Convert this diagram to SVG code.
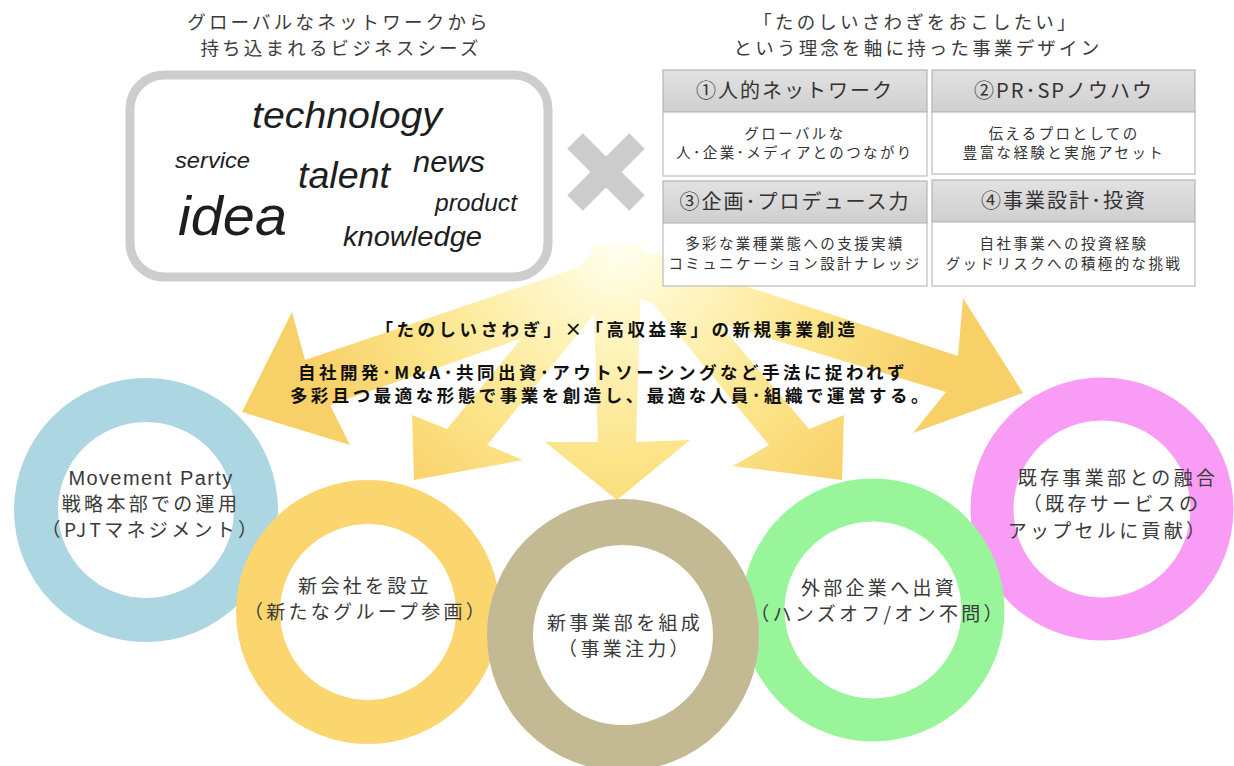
<svg xmlns="http://www.w3.org/2000/svg" width="1234" height="766" viewBox="0 0 1234 766">
<defs>
<radialGradient id="fan" gradientUnits="userSpaceOnUse" cx="618" cy="245" r="330">
<stop offset="0" stop-color="#fffff2"/>
<stop offset="0.2" stop-color="#fff8cc"/>
<stop offset="0.65" stop-color="#fce489"/>
<stop offset="1" stop-color="#f8d068"/>
</radialGradient>
<linearGradient id="hdr" x1="0" y1="0" x2="0" y2="1">
<stop offset="0" stop-color="#e2e2e2"/>
<stop offset="1" stop-color="#cfcfcf"/>
</linearGradient>
</defs>
<style>
.jp{font-family:"Noto Sans CJK JP","Noto Sans CJK SC",sans-serif;}
.title{font-size:18.5px;fill:#3c3c3c;letter-spacing:3.2px;text-anchor:middle;}
.word{font-family:"Liberation Sans",Arial,sans-serif;font-style:italic;fill:#1e1e1e;}
.hdr{fill:url(#hdr);stroke:#b4b4b4;stroke-width:1.2;}
.body{fill:#ffffff;stroke:#bdbdbd;stroke-width:1.2;}
.htext{font-size:20px;fill:#333;letter-spacing:2px;text-anchor:middle;}
.btext{font-size:14.5px;fill:#333;letter-spacing:2.4px;text-anchor:middle;}
.bold{font-size:17.5px;font-weight:bold;fill:#111;letter-spacing:3.5px;text-anchor:middle;}
.ring{fill:none;}
.rtext{font-size:19px;fill:#3a3a3a;letter-spacing:3.3px;text-anchor:middle;}
.arrow{fill:url(#fan);}
</style>
<rect width="1234" height="766" fill="#ffffff"/>

<g id="connectors">
<path class="arrow" d="M630,250 L305,360 L292,312 L242,412 L350,445 L330,405 L632,300 Z"/>
<path class="arrow" d="M598,245 L447,429 L412,415 L414,480 L523,460 L487,445 L632,268 Z"/>
<path class="arrow" d="M592,245 L598,442 L545,442 L617,500 L690,440 L636,442 L642,245 Z"/>
<path class="arrow" d="M658,252 L809,429 L844,415 L842,480 L733,466 L769,445 L624,268 Z"/>
<path class="arrow" d="M605,240 L958,356 L963,298 L1023,393 L913,433 L946,392 L610,290 Z"/>
</g>

<g id="title-left">
<text class="jp title" x="339" y="29">グローバルなネットワークから<tspan x="341" y="55">持ち込まれるビジネスシーズ</tspan></text>
</g>

<g id="seeds">
<rect x="130" y="75" width="418" height="202" rx="34" fill="#ffffff" stroke="#cdcdcd" stroke-width="9"/>
<text class="word" x="252" y="128" font-size="36" textLength="190" lengthAdjust="spacingAndGlyphs">technology</text>
<text class="word" x="175" y="168" font-size="22" textLength="75" lengthAdjust="spacingAndGlyphs">service</text>
<text class="word" x="298" y="188" font-size="37" textLength="92" lengthAdjust="spacingAndGlyphs">talent</text>
<text class="word" x="413" y="172" font-size="30" textLength="72" lengthAdjust="spacingAndGlyphs">news</text>
<text class="word" x="178" y="235" font-size="56" textLength="109" lengthAdjust="spacingAndGlyphs">idea</text>
<text class="word" x="435" y="211" font-size="24" textLength="82" lengthAdjust="spacingAndGlyphs">product</text>
<text class="word" x="343" y="246" font-size="28" textLength="139" lengthAdjust="spacingAndGlyphs">knowledge</text>
</g>

<g id="times">
<line x1="575" y1="141" x2="637" y2="203" stroke="#cccccc" stroke-width="22"/>
<line x1="637" y1="141" x2="575" y2="203" stroke="#cccccc" stroke-width="22"/>
</g>

<g id="title-right">
<text class="jp title" x="916" y="29">「たのしいさわぎをおこしたい」<tspan x="918" y="55">という理念を軸に持った事業デザイン</tspan></text>
</g>

<g id="box1">
<rect class="hdr" x="663" y="70" width="264" height="42"/>
<rect class="body" x="663" y="112" width="264" height="64"/>
<text class="jp htext" x="795" y="98">①人的ネットワーク</text>
<text class="jp btext" x="795" y="139">グローバルな<tspan x="795" y="158">人･企業･メディアとのつながり</tspan></text>
</g>
<g id="box2">
<rect class="hdr" x="932" y="70" width="263" height="42"/>
<rect class="body" x="932" y="112" width="263" height="62"/>
<text class="jp htext" x="1064" y="98">②PR･SPノウハウ</text>
<text class="jp btext" x="1064" y="139">伝えるプロとしての<tspan x="1064" y="158">豊富な経験と実施アセット</tspan></text>
</g>
<g id="box3">
<rect class="hdr" x="663" y="181" width="264" height="42"/>
<rect class="body" x="663" y="223" width="264" height="63"/>
<text class="jp htext" x="795" y="209">③企画･プロデュース力</text>
<text class="jp btext" x="795" y="249">多彩な業種業態への支援実績<tspan x="795" y="269">コミュニケーション設計ナレッジ</tspan></text>
</g>
<g id="box4">
<rect class="hdr" x="932" y="180" width="263" height="42"/>
<rect class="body" x="932" y="222" width="263" height="64"/>
<text class="jp htext" x="1064" y="208">④事業設計･投資</text>
<text class="jp btext" x="1064" y="249">自社事業への投資経験<tspan x="1064" y="269">グッドリスクへの積極的な挑戦</tspan></text>
</g>

<g id="message">
<text class="jp bold" x="617" y="336">「たのしいさわぎ」×「高収益率」の新規事業創造</text>
<text class="jp bold" x="603" y="379">自社開発･M&amp;A･共同出資･アウトソーシングなど手法に捉われず<tspan x="611" y="402">多彩且つ最適な形態で事業を創造し、最適な人員･組織で運営する。</tspan></text>
</g>

<g id="ring-party">
<circle class="ring" cx="146" cy="510" r="110" stroke="#acd6e2" stroke-width="44"/>
<text x="151" y="485" font-family="Liberation Sans, Arial, sans-serif" font-size="20" fill="#3a3a3a" letter-spacing="1.4" text-anchor="middle">Movement Party<tspan class="jp rtext" x="151" y="511">戦略本部での運用</tspan><tspan class="jp rtext" x="151" y="537">（PJTマネジメント）</tspan></text>
</g>

<g id="ring-merge">
<circle class="ring" cx="1102" cy="509" r="110" stroke="#f99cf5" stroke-width="43"/>
<text class="jp rtext" x="1118" y="485">既存事業部との融合<tspan x="1112" y="511">（既存サービスの</tspan><tspan x="1108" y="538">アップセルに貢献）</tspan></text>
</g>

<g id="ring-newco">
<circle class="ring" cx="368" cy="612" r="110" stroke="#fbd66f" stroke-width="44"/>
<text class="jp rtext" x="365" y="593">新会社を設立<tspan x="366" y="619">（新たなグループ参画）</tspan></text>
</g>

<g id="ring-invest">
<circle class="ring" cx="873" cy="610" r="110" stroke="#99f59a" stroke-width="43"/>
<text class="jp rtext" x="879" y="595">外部企業へ出資<tspan x="878" y="621">（ハンズオフ/オン不問）</tspan></text>
</g>

<g id="ring-division">
<circle class="ring" cx="623" cy="635" r="113" stroke="#c3ba93" stroke-width="46"/>
<text class="jp rtext" x="625" y="630">新事業部を組成<tspan x="625" y="656">（事業注力）</tspan></text>
</g>
</svg>
